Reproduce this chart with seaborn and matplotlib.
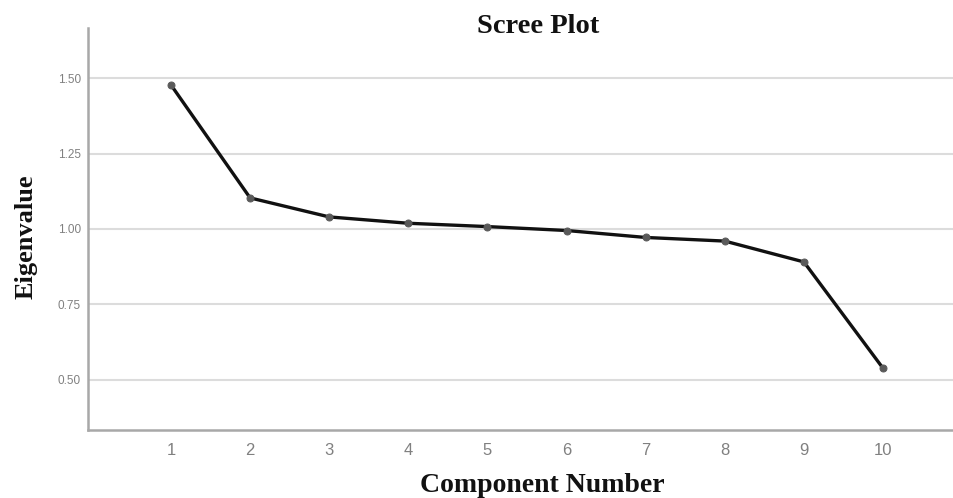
import numpy as np
import pandas as pd
import seaborn as sns
import matplotlib
matplotlib.use("Agg")
import matplotlib.pyplot as plt

# Scree plot values
components = [1, 2, 3, 4, 5, 6, 7, 8, 9, 10]
eigenvalues = [1.477, 1.103, 1.040, 1.019, 1.008, 0.995, 0.972, 0.960, 0.891, 0.539]
y_ticks = [0.50, 0.75, 1.00, 1.25, 1.50]

df = pd.DataFrame({"Component Number": components, "Eigenvalue": eigenvalues})

sns.set_style("white")
W, H = 954, 498
fig = plt.figure(figsize=(W / 100, H / 100), dpi=100)
# axes runs a bit past the right edge, like the cropped original
ax = fig.add_axes([88 / W, (H - 430) / H, (992 - 88) / W, (430 - 28) / H])

sns.lineplot(data=df, x="Component Number", y="Eigenvalue", ax=ax,
             color="#111111", linewidth=2.4, marker="o", markersize=5,
             markerfacecolor="#5a5a5a", markeredgecolor="#5a5a5a", zorder=3)

ax.set_xlim(-0.049, 11.378)
ax.set_ylim(0.3344, 1.6656)
ax.set_xticks(components)
ax.set_yticks(y_ticks)
ax.set_yticklabels([f"{v:.2f}" for v in y_ticks])
ax.yaxis.grid(True, color="#dcdcdc", linewidth=1.5)
ax.xaxis.grid(False)
ax.set_axisbelow(True)

ax.tick_params(axis="x", length=0, pad=9, labelsize=12, labelcolor="#808080")
ax.tick_params(axis="y", length=0, pad=5, labelsize=8.5, labelcolor="#808080")
for lab in ax.get_xticklabels() + ax.get_yticklabels():
    lab.set_fontfamily("Liberation Sans")

for side in ["top", "right"]:
    ax.spines[side].set_visible(False)
for side in ["left", "bottom"]:
    ax.spines[side].set_color("#a8a8a8")
    ax.spines[side].set_linewidth(1.8)

ax.set_xlabel("")
ax.set_ylabel("")

serif = dict(fontfamily="Liberation Serif", fontweight="bold", color="#111111")
fig.text(538 / W, 1 - 33 / H, "Scree Plot", ha="center", va="baseline",
         fontsize=20.5, **serif)
fig.text(542 / W, 1 - 492 / H, "Component Number", ha="center", va="baseline",
         fontsize=20, **serif)
fig.text(33 / W, 1 - 236.5 / H, "Eigenvalue", ha="center", va="baseline",
         rotation=90, rotation_mode="anchor", fontsize=19, **serif)

fig.savefig("out.png", dpi=100)
